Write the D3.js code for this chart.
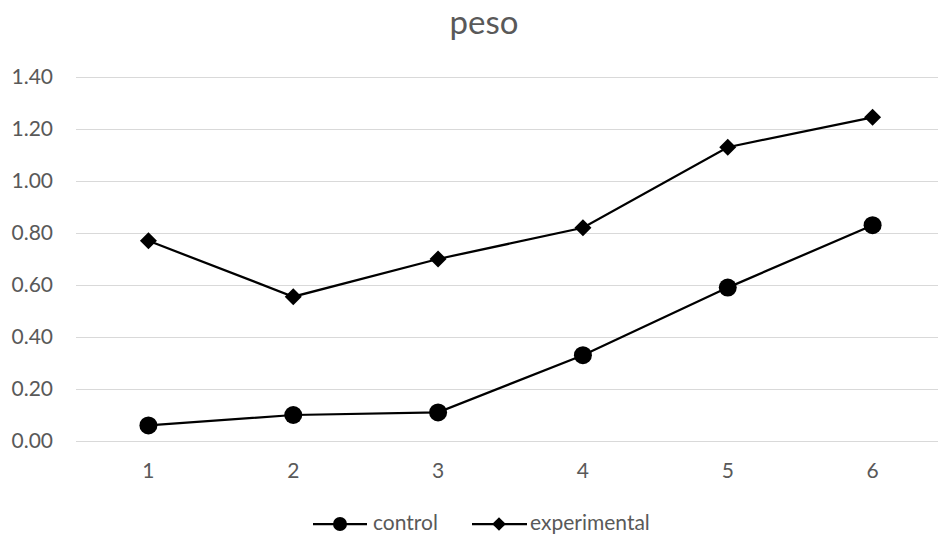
<!DOCTYPE html>
<html>
<head>
<meta charset="utf-8">
<script src="https://cdn.jsdelivr.net/npm/d3@7"></script>
<style>
  html, body { margin: 0; padding: 0; background: #fff; }
  svg { display: block; font-family: Lato, "Open Sans", sans-serif; }
</style>
</head>
<body>
<svg id="chart" width="938" height="535"></svg>
<script>
const categories = ["1", "2", "3", "4", "5", "6"];
const control = [0.06, 0.10, 0.11, 0.33, 0.59, 0.83];
const experimental = [0.77, 0.555, 0.70, 0.82, 1.13, 1.245];
const yTicks = [0, 0.2, 0.4, 0.6, 0.8, 1.0, 1.2, 1.4];

const svg = d3.select("#chart");
const FONT = "Lato, 'Open Sans', sans-serif";
const TEXT = "#595959";

const x = d3.scaleBand().domain(categories).range([76, 945]);
const y = d3.scaleLinear().domain([0, 1.4]).range([441, 77]);

// title
svg.append("text")
  .attr("x", 484).attr("y", 34)
  .attr("text-anchor", "middle")
  .attr("fill", TEXT)
  .attr("font-size", 33)
  .text("peso");

// horizontal gridlines + value labels
const yAxis = d3.axisLeft(y).tickValues(yTicks)
  .tickFormat(d3.format(".2f"))
  .tickSize(-(945 - 76)).tickPadding(23);
const gy = svg.append("g").attr("transform", "translate(76,0)").call(yAxis);
gy.select(".domain").remove();
gy.selectAll(".tick line").attr("stroke", "#d9d9d9").attr("stroke-width", 1);
gy.selectAll(".tick text").attr("fill", TEXT).attr("font-size", 21)
  .attr("font-family", FONT);

// category labels
const xAxis = d3.axisBottom(x).tickSize(0).tickPadding(22);
const gx = svg.append("g").attr("transform", "translate(0,441)").call(xAxis);
gx.select(".domain").remove();
gx.selectAll(".tick text").attr("fill", TEXT).attr("font-size", 21)
  .attr("font-family", FONT);

const cx = (d, i) => x(categories[i]) + x.bandwidth() / 2;
const line = d3.line().x(cx).y(d => y(d));

const diamondPath = "M0,-8.5L8.5,0L0,8.5L-8.5,0Z";

// experimental series
svg.append("path").datum(experimental)
  .attr("d", line).attr("fill", "none")
  .attr("stroke", "#000").attr("stroke-width", 2.25);
svg.append("g").selectAll("path").data(experimental).join("path")
  .attr("d", diamondPath)
  .attr("transform", (d, i) => `translate(${cx(d, i)},${y(d)})`)
  .attr("fill", "#000");

// control series
svg.append("path").datum(control)
  .attr("d", line).attr("fill", "none")
  .attr("stroke", "#000").attr("stroke-width", 2.25);
svg.append("g").selectAll("circle").data(control).join("circle")
  .attr("cx", cx).attr("cy", d => y(d)).attr("r", 9)
  .attr("fill", "#000");

// legend
const legend = svg.append("g");
const ly = 524;
legend.append("line").attr("x1", 313).attr("x2", 367).attr("y1", ly).attr("y2", ly)
  .attr("stroke", "#000").attr("stroke-width", 2.25);
legend.append("circle").attr("cx", 340).attr("cy", ly).attr("r", 7).attr("fill", "#000");
legend.append("text").attr("x", 373).attr("y", ly + 6)
  .attr("fill", TEXT).attr("font-size", 21).text("control");

legend.append("line").attr("x1", 472).attr("x2", 527).attr("y1", ly).attr("y2", ly)
  .attr("stroke", "#000").attr("stroke-width", 2.25);
legend.append("path").attr("d", diamondPath)
  .attr("transform", `translate(499,${ly}) scale(0.8)`).attr("fill", "#000");
legend.append("text").attr("x", 530).attr("y", ly + 6)
  .attr("fill", TEXT).attr("font-size", 21).text("experimental");
</script>
</body>
</html>
